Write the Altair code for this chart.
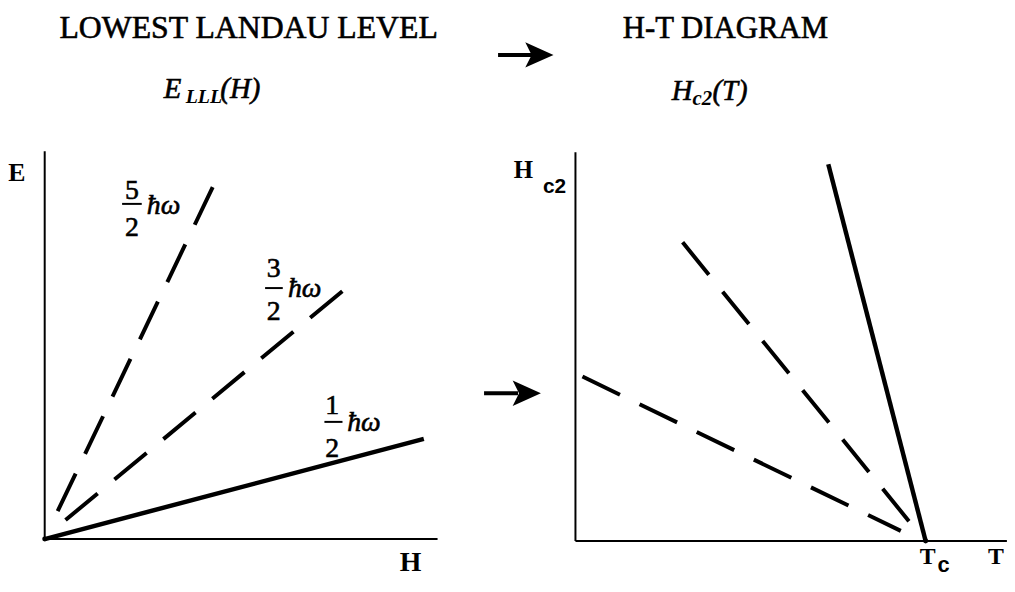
import altair as alt
import pandas as pd

# ---------------- left panel: E_LLL(H)  (H, E in axis units 0..1) ----------------
lvl_names = ["5/2", "3/2", "1/2"]
lvl_h0 = [0.033, 0.053, 0.000]
lvl_e0 = [0.072, 0.049, 0.000]
lvl_h1 = [0.429, 0.765, 0.965]
lvl_e1 = [0.910, 0.645, 0.258]
lvl_dashed = [True, True, False]

frac_num = ["5", "3", "1"]
frac_den = ["2", "2", "2"]
frac_h = [0.222, 0.583, 0.732]
frac_num_e = [0.877, 0.675, 0.322]
frac_den_e = [0.780, 0.565, 0.212]
frac_bar_h0 = [0.197, 0.561, 0.712]
frac_bar_h1 = [0.247, 0.606, 0.758]
frac_bar_e = [0.864, 0.647, 0.302]
hw_h = [0.260, 0.619, 0.770]
hw_e = [0.839, 0.624, 0.279]

# ---------------- right panel: Hc2(T)  (T in units of Tc, Hc2 in axis units) ----------------
hc_names = ["steep", "shallow", "solid"]
hc_t0 = [0.306, 0.020, 0.722]
hc_h0 = [0.768, 0.423, 0.969]
hc_t1 = [0.955, 0.929, 1.000]
hc_h1 = [0.048, 0.026, 0.000]
hc_dashed = [True, True, False]
T_AXIS_END = 1.232

# scales: each panel in its own units
xL = alt.Scale(domain=[0, 1], range=[37, 433], nice=False, zero=False)
yL = alt.Scale(domain=[0, 1], range=[533, 142], nice=False, zero=False)
xR = alt.Scale(domain=[0, 1], range=[572, 925], nice=False, zero=False)
yR = alt.Scale(domain=[0, 1], range=[535, 143], nice=False, zero=False)

SERIF = "Liberation Serif"
SANS = "Liberation Sans"
INK = dict(stroke="black", strokeWidth=0.6)


def segs(xs, ys, x2s, y2s, sx, sy, width, dash=None):
    df = pd.DataFrame({"x": xs, "y": ys, "x2": x2s, "y2": y2s})
    kw = dict(color="black", strokeWidth=width, strokeCap="butt")
    if dash is not None:
        kw["strokeDash"] = dash
    return alt.Chart(df).mark_rule(**kw).encode(
        x=alt.X("x:Q", scale=sx, axis=None),
        y=alt.Y("y:Q", scale=sy, axis=None),
        x2="x2:Q",
        y2="y2:Q",
    )


def texts(labels, xs, ys, sx, sy, **style):
    df = pd.DataFrame({"x": xs, "y": ys, "t": labels})
    kw = dict(color="black", baseline="alphabetic", align="left", font=SERIF)
    kw.update(style)
    return alt.Chart(df).mark_text(**kw).encode(
        x=alt.X("x:Q", scale=sx, axis=None),
        y=alt.Y("y:Q", scale=sy, axis=None),
        text="t:N",
    )


def pick(vals, mask, keep=True):
    return [v for v, m in zip(vals, mask) if m == keep]


layers = []

# ---- left panel ----
layers.append(segs([0, 0], [0, 0], [0, 1], [1, 0], xL, yL, 2))
layers.append(segs(pick(lvl_h0, lvl_dashed), pick(lvl_e0, lvl_dashed),
                   pick(lvl_h1, lvl_dashed), pick(lvl_e1, lvl_dashed), xL, yL, 4, [42, 22]))
layers.append(segs(pick(lvl_h0, lvl_dashed, False), pick(lvl_e0, lvl_dashed, False),
                   pick(lvl_h1, lvl_dashed, False), pick(lvl_e1, lvl_dashed, False), xL, yL, 4.5))
layers.append(segs(frac_bar_h0, frac_bar_e, frac_bar_h1, frac_bar_e, xL, yL, 2))
layers.append(texts(frac_num, frac_h, frac_num_e, xL, yL, align="center", fontSize=28, **INK))
layers.append(texts(frac_den, frac_h, frac_den_e, xL, yL, align="center", fontSize=28, **INK))
layers.append(texts(["ħω"] * 3, hw_h, hw_e, xL, yL, fontSize=28, fontStyle="italic", **INK))
layers.append(alt.Chart(pd.DataFrame({"x": [0], "y": [0]})).mark_point(
    shape="circle", filled=True, size=25, color="black", opacity=1).encode(
    x=alt.X("x:Q", scale=xL, axis=None), y=alt.Y("y:Q", scale=yL, axis=None)))
# titles & axis labels (left)
layers.append(texts(["LOWEST LANDAU LEVEL"], [0.519], [1.292], xL, yL, align="center", fontSize=32, **INK))
layers.append(texts(["E", "(H)"], [0.303, 0.447], [1.136, 1.136], xL, yL, fontSize=29, fontStyle="italic", **INK))
layers.append(texts(["LLL"], [0.359], [1.125], xL, yL, fontSize=20, fontStyle="italic", fontWeight="bold"))
layers.append(texts(["E"], [-0.093], [0.923], xL, yL, fontSize=26, fontWeight="bold"))
layers.append(texts(["H"], [0.904], [-0.082], xL, yL, fontSize=28, fontWeight="bold"))

# ---- right panel ----
layers.append(segs([0, 0], [0, 0], [0, T_AXIS_END], [1, 0], xR, yR, 2))
layers.append(segs(pick(hc_t0, hc_dashed), pick(hc_h0, hc_dashed),
                   pick(hc_t1, hc_dashed), pick(hc_h1, hc_dashed), xR, yR, 4, [42, 22]))
layers.append(segs(pick(hc_t0, hc_dashed, False), pick(hc_h0, hc_dashed, False),
                   pick(hc_t1, hc_dashed, False), pick(hc_h1, hc_dashed, False), xR, yR, 4.5))
layers.append(alt.Chart(pd.DataFrame({"x": [1.0], "y": [0]})).mark_point(
    shape="circle", filled=True, size=25, color="black", opacity=1).encode(
    x=alt.X("x:Q", scale=xR, axis=None), y=alt.Y("y:Q", scale=yR, axis=None)))
layers.append(texts(["H-T DIAGRAM"], [0.428], [1.293], xR, yR, align="center", fontSize=31, **INK))
layers.append(texts(["H", "(T)"], [0.275, 0.391], [1.135, 1.135], xR, yR, fontSize=29, fontStyle="italic", **INK))
layers.append(texts(["c2"], [0.334], [1.122], xR, yR, fontSize=21, fontStyle="italic", fontWeight="bold"))
layers.append(texts(["H"], [-0.176], [0.934], xR, yR, fontSize=25, fontWeight="bold"))
layers.append(texts(["c2"], [-0.093], [0.895], xR, yR, fontSize=21, fontWeight="bold", font=SANS))
layers.append(texts(["T", "T"], [0.983, 1.178], [-0.059, -0.059], xR, yR, fontSize=24, fontWeight="bold"))
layers.append(texts(["c"], [1.034], [-0.079], xR, yR, fontSize=22, fontWeight="bold", font=SANS))

# arrows (between the panels), in right-panel units
arrow_t0 = [-0.221, -0.261]
arrow_t1 = [-0.113, -0.164]
arrow_h = [1.25, 0.380]
arrow_head_t = [-0.103, -0.139]
layers.append(segs(arrow_t0, arrow_h, arrow_t1, arrow_h, xR, yR, 4))
layers.append(alt.Chart(pd.DataFrame({"x": arrow_head_t, "y": arrow_h})).mark_point(
    shape="M1,0L-1,-0.9L-0.55,0L-1,0.9Z", filled=True, size=810, color="black",
    opacity=1, strokeWidth=0).encode(
    x=alt.X("x:Q", scale=xR, axis=None), y=alt.Y("y:Q", scale=yR, axis=None)))

chart = alt.layer(*layers).resolve_scale(x="independent", y="independent").properties(
    width=1007, height=571, padding=0,
    autosize=alt.AutoSizeParams(type="none"),
    background="white",
).configure_view(stroke=None)

chart.save("out.html", embed_options={"renderer": "svg", "actions": False})
